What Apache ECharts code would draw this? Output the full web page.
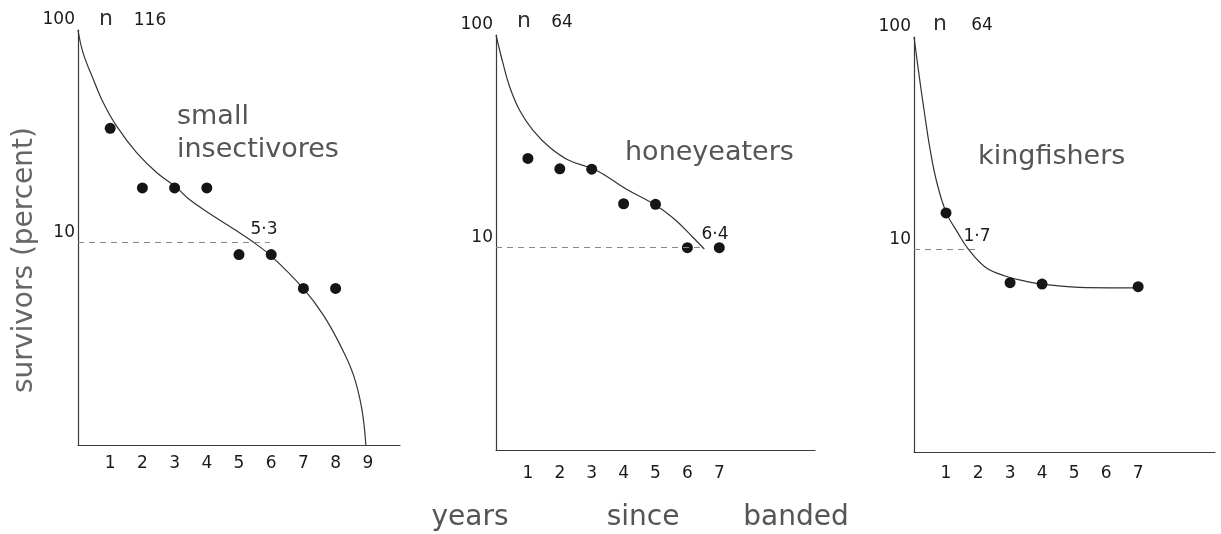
<!DOCTYPE html>
<html>
<head>
<meta charset="utf-8">
<script src="https://cdn.jsdelivr.net/npm/echarts@6/dist/echarts.min.js"></script>
<style>
html,body{margin:0;padding:0;background:#fff;}
#chart{width:1221px;height:534px;}
</style>
</head>
<body>
<div id="chart"></div>
<script>
// ---- data ----
const panelNames = ['small insectivores', 'honeyeaters', 'kingfishers'];
const sampleSizes = ['116', '64', '64'];
const meanLife = ['5·3', '6·4', '1·7'];
const dashEnds = [5.96, 6.47, 2.05];        // x where the 10% dashed line ends
const xLabelMax = [9, 7, 7];                  // last year shown on each axis
const yTickLabels = [10, 100];

// panel 1: small insectivores
const years1 = [1, 2, 3, 4, 5, 6, 7, 8];
const surv1  = [34.5, 18.1, 18.1, 18.1, 8.8, 8.8, 6.1, 6.1];
const curveX1 = [0, 0.16, 0.48, 0.79, 1.2, 1.82, 2.44, 3.06, 3.43, 4.19, 4.8, 5.43, 6.02, 6.98, 7.62, 8.14, 8.55, 8.81, 8.94];
const curveY1 = [100, 77.8, 58.4, 45.4, 35.3, 26.5, 21.4, 18.2, 16.1, 13.4, 11.7, 10.1, 8.6, 6.13, 4.57, 3.31, 2.40, 1.67, 1.12];

// panel 2: honeyeaters
const years2 = [1, 2, 3, 4, 5, 6, 7];
const surv2  = [26.3, 23.5, 23.4, 16.1, 16.0, 10.0, 10.0];
const curveX2 = [0, 0.22, 0.43, 0.74, 1.16, 1.68, 2.3, 3.04, 3.5, 4.08, 5.02, 5.65, 6.17, 6.53];
const curveY2 = [100, 73.5, 57.0, 44.3, 35.6, 29.7, 25.7, 23.5, 21.5, 18.9, 15.8, 13.4, 11.2, 9.86];

// panel 3: kingfishers
const years3 = [1, 3, 4, 7];
const surv3  = [14.9, 7.0, 6.9, 6.7];
const curveX3 = [0, 0.18, 0.33, 0.49, 0.70, 1.01, 1.37, 1.69, 2.22, 2.84, 3.5, 4.03, 5.39, 7.0];
const curveY3 = [100, 62.7, 43.7, 30.4, 21.1, 14.9, 12.0, 10.1, 8.3, 7.53, 7.1, 6.88, 6.64, 6.62];

const pointsX = [years1, years2, years3];
const pointsY = [surv1, surv2, surv3];
const curvesX = [curveX1, curveX2, curveX3];
const curvesY = [curveY1, curveY2, curveY3];

// ---- layout / style ----
const FONT = 'DejaVu Sans';
const grids = [
  {left: 78,  top: 30, width: 322, height: 415},
  {left: 496, top: 35, width: 319, height: 415},
  {left: 914, top: 37, width: 301, height: 415}
];
const xMaxes = [10, 10, 9.4];
const xLabelMargins = [10, 15, 13];

const zip = (a, b) => a.map((v, i) => [v, b[i]]);

const option = {
  animation: false,
  backgroundColor: '#fff',
  grid: grids.map(g => Object.assign({containLabel: false}, g)),
  xAxis: grids.map((g, i) => ({
    type: 'value', gridIndex: i, min: 0, max: xMaxes[i], interval: 1,
    axisLine: {show: true, onZero: false, lineStyle: {color: '#3a3a3a', width: 1.2}},
    axisTick: {show: false},
    splitLine: {show: false},
    axisLabel: {
      margin: xLabelMargins[i], fontSize: 17, fontFamily: FONT, color: '#1a1a1a',
      verticalAlign: 'top', showMinLabel: true, showMaxLabel: true,
      formatter: v => (v >= 1 && v <= xLabelMax[i] && Math.abs(v - Math.round(v)) < 1e-6) ? String(Math.round(v)) : ''
    }
  })),
  yAxis: grids.map((g, i) => ({
    type: 'log', logBase: 10, gridIndex: i, min: 1.12, max: 100,
    axisLine: {show: true, lineStyle: {color: '#3a3a3a', width: 1.2}},
    axisTick: {show: false},
    splitLine: {show: false},
    axisLabel: {
      margin: 3, fontSize: 17, fontFamily: FONT, color: '#1a1a1a',
      verticalAlign: 'bottom', padding: [0, 0, 2, 0],
      formatter: v => {
        for (const t of yTickLabels) { if (Math.abs(v - t) < t * 0.001) return String(t); }
        return '';
      }
    }
  })),
  series: [],
  graphic: []
};

for (let i = 0; i < 3; i++) {
  option.series.push({
    type: 'line', xAxisIndex: i, yAxisIndex: i,
    data: zip(curvesX[i], curvesY[i]),
    smooth: 0.4, showSymbol: false, symbol: 'none',
    lineStyle: {color: '#333', width: 1.2},
    silent: true, z: 2
  });
  option.series.push({
    type: 'scatter', xAxisIndex: i, yAxisIndex: i,
    data: zip(pointsX[i], pointsY[i]),
    symbol: 'circle', symbolSize: 11,
    itemStyle: {color: '#151515', opacity: 1},
    silent: true, z: 3,
    markLine: {
      silent: true, symbol: ['none', 'none'],
      label: {show: false},
      lineStyle: {type: [6, 5], color: '#888', width: 1},
      data: [[{coord: [0, 10]}, {coord: [dashEnds[i], 10]}]]
    }
  });
}

const txt = (text, x, y, size, color, align, extra) => Object.assign({
  type: 'text', x: x, y: y, silent: true,
  style: {text: text, fontSize: size, fontFamily: FONT, fill: color,
          align: align || 'center', verticalAlign: 'middle'}
}, extra || {});

// "n" and sample sizes
const nX = [106, 524, 940], nY = [21, 23, 26];
const nnX = [150, 562, 982];
for (let i = 0; i < 3; i++) {
  option.graphic.push(txt('n', nX[i], nY[i] - 2, 22, '#333'));
  option.graphic.push(txt(sampleSizes[i], nnX[i], nY[i], 17, '#1a1a1a'));
}
// mean life annotations
const mlX = [264, 715, 977], mlY = [230, 235, 237];
for (let i = 0; i < 3; i++) option.graphic.push(txt(meanLife[i], mlX[i], mlY[i], 17, '#1a1a1a'));

// panel names
option.graphic.push(txt('small', 177, 117, 27, '#555', 'left'));
option.graphic.push(txt('insectivores', 177, 150, 27, '#555', 'left'));
option.graphic.push(txt(panelNames[1], 625, 153, 27, '#555', 'left'));
option.graphic.push(txt(panelNames[2], 978, 157, 27, '#555', 'left'));

// axis titles
option.graphic.push(txt('survivors (percent)', 25, 260, 28, '#666', 'center', {rotation: Math.PI / 2}));
option.graphic.push(txt('years', 470, 518, 28, '#555'));
option.graphic.push(txt('since', 643, 518, 28, '#555'));
option.graphic.push(txt('banded', 796, 518, 28, '#555'));

const chart = echarts.init(document.getElementById('chart'), null, {renderer: 'canvas'});
chart.setOption(option);
</script>
</body>
</html>
